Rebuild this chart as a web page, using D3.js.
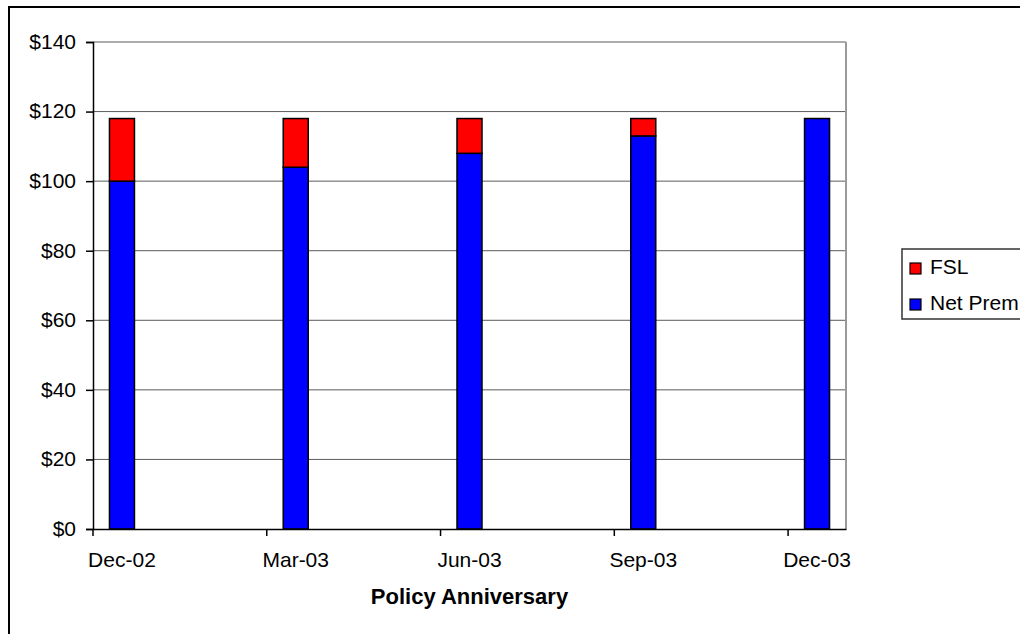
<!DOCTYPE html>
<html>
<head>
<meta charset="utf-8">
<script src="https://cdn.jsdelivr.net/npm/d3@7"></script>
<style>
  html, body { margin: 0; padding: 0; background: #fff; }
  svg { display: block; font-family: "Liberation Sans", Arial, sans-serif; }
</style>
</head>
<body>
<svg id="chart" width="1020" height="634"></svg>
<script>
// Quarterly policy anniversaries
const categories = ["Dec-02", "Mar-03", "Jun-03", "Sep-03", "Dec-03"];
// Stacked series (bottom to top)
const netPrem = [100, 104, 108, 113, 118];
const fsl = [18, 14, 10, 5, 0];
const seriesNames = ["Net Prem", "FSL"];
const seriesColors = ["#0000ff", "#ff0000"];
const yTicks = [0, 20, 40, 60, 80, 100, 120, 140];

const svg = d3.select("#chart");
const plot = { left: 93, right: 846, top: 42, bottom: 529 };
const labelSize = 21;

// Outer chart frame
svg.append("rect")
  .attr("x", 9).attr("y", 7)
  .attr("width", 1040).attr("height", 660)
  .attr("fill", "none").attr("stroke", "#000").attr("stroke-width", 2);

// Month-slot band scale: Dec-02 through Dec-03
const fmt = d3.timeFormat("%b-%y");
const parse = d3.timeParse("%b-%y");
const months = d3.timeMonth.range(parse("Dec-02"), d3.timeMonth.offset(parse("Dec-03"), 1)).map(fmt);
const x = d3.scaleBand().domain(months).range([plot.left, plot.right]);
const y = d3.scaleLinear().domain([0, 140]).range([plot.bottom, plot.top]);
const barW = 25;

// Gridlines
svg.append("g")
  .selectAll("line")
  .data(yTicks.filter(d => d > 0))
  .join("line")
  .attr("x1", plot.left).attr("x2", plot.right)
  .attr("y1", d => y(d)).attr("y2", d => y(d))
  .attr("stroke", "#5a5a5a").attr("stroke-width", 1);

// Right edge of plot area
svg.append("line")
  .attr("x1", plot.right).attr("x2", plot.right)
  .attr("y1", plot.top).attr("y2", plot.bottom)
  .attr("stroke", "#9a9a9a").attr("stroke-width", 2);

// Stacked bars
const rows = categories.map((c, i) => ({ cat: c, "Net Prem": netPrem[i], "FSL": fsl[i] }));
const stacked = d3.stack().keys(seriesNames)(rows);
svg.append("g")
  .selectAll("g")
  .data(stacked)
  .join("g")
  .attr("fill", (d, i) => seriesColors[i])
  .selectAll("rect")
  .data(d => d.filter(p => p[1] - p[0] > 0))
  .join("rect")
  .attr("x", d => x(d.data.cat) + x.bandwidth() / 2 - barW / 2)
  .attr("width", barW)
  .attr("y", d => y(d[1]))
  .attr("height", d => y(d[0]) - y(d[1]))
  .attr("stroke", "#000").attr("stroke-width", 1.5);

// Y axis
const yAxis = svg.append("g")
  .attr("transform", `translate(${plot.left},0)`)
  .call(d3.axisLeft(y).tickValues(yTicks).tickFormat(d => "$" + d).tickSize(7).tickPadding(10));
yAxis.select(".domain").attr("stroke", "#000").attr("stroke-width", 1.5);
yAxis.selectAll(".tick line").attr("stroke", "#000").attr("stroke-width", 1.5);
yAxis.selectAll(".tick text")
  .attr("font-family", "Liberation Sans, Arial, sans-serif")
  .attr("font-size", labelSize).attr("dy", "0.3em").attr("fill", "#000");

// X axis: ticks at the start of each quarter slot, labels centred under bars
const xAxis = svg.append("g")
  .attr("transform", `translate(0,${plot.bottom})`)
  .call(d3.axisBottom(x).tickValues(categories).tickSize(7).tickSizeOuter(0).tickPadding(16));
xAxis.select(".domain").attr("stroke", "#000").attr("stroke-width", 1.5);
xAxis.selectAll(".tick line")
  .attr("x1", -x.bandwidth() / 2).attr("x2", -x.bandwidth() / 2)
  .attr("stroke", "#000").attr("stroke-width", 1.5);
xAxis.selectAll(".tick text")
  .attr("font-family", "Liberation Sans, Arial, sans-serif")
  .attr("font-size", labelSize).attr("fill", "#000");

// Axis title
svg.append("text")
  .attr("x", (plot.left + plot.right) / 2)
  .attr("y", 604)
  .attr("text-anchor", "middle")
  .attr("font-size", 22).attr("font-weight", "bold")
  .text("Policy Anniversary");

// Legend (top entry is the top of the stack)
const legend = svg.append("g");
legend.append("rect")
  .attr("x", 902).attr("y", 249)
  .attr("width", 140).attr("height", 70)
  .attr("fill", "#fff").attr("stroke", "#333").attr("stroke-width", 1.5);
const legendItems = seriesNames.map((n, i) => ({ name: n, color: seriesColors[i] })).reverse();
const li = legend.selectAll("g.item")
  .data(legendItems)
  .join("g")
  .attr("class", "item")
  .attr("transform", (d, i) => `translate(910,${263 + i * 36})`);
li.append("rect")
  .attr("width", 11).attr("height", 11)
  .attr("fill", d => d.color).attr("stroke", "#000").attr("stroke-width", 1.2);
li.append("text")
  .attr("x", 20).attr("y", 11)
  .attr("font-size", labelSize).attr("fill", "#000")
  .text(d => d.name);
</script>
</body>
</html>
